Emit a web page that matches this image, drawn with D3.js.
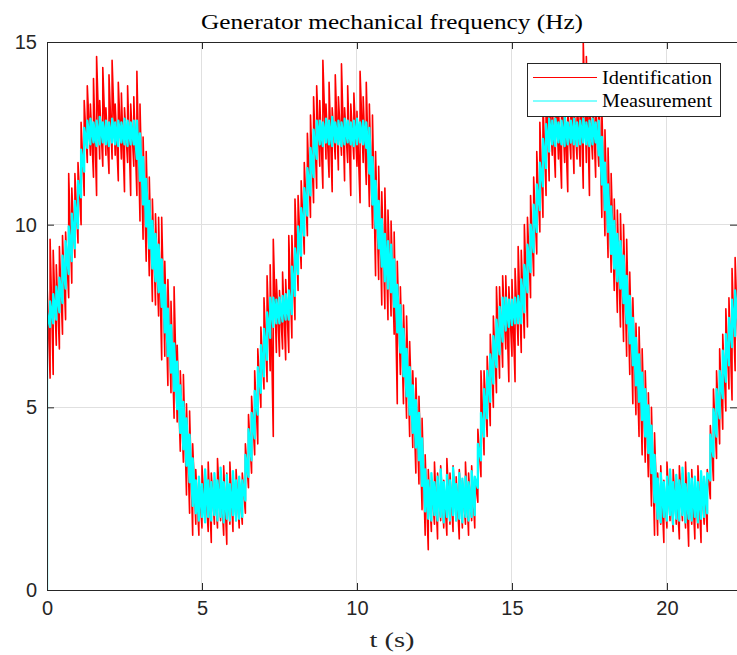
<!DOCTYPE html>
<html><head><meta charset="utf-8">
<script src="https://cdn.jsdelivr.net/npm/d3@7"></script>
<style>body{margin:0;background:#fff}svg{display:block}</style>
</head><body>
<svg id="chart" width="737" height="655"></svg>
<script>
// ---- data ----
const chartTitle = "Generator mechanical frequency (Hz)";
const xLabel = "t (s)";
const seriesNames = ["Identification", "Measurement"];
const xTicks = [0, 5, 10, 15, 20];
const yTicks = [0, 5, 10, 15];
const xMax = 22.26;
const sampleStep = 0.1; // s, sampling of the envelope readings

// Identification (red): lower / upper envelope of the noisy trace at each sample
const redLo = [
 5.6, 5.8, 5.9, 6.7, 6.6, 7.0, 7.4, 8.0, 8.4, 9.1,
 9.5, 10.0, 10.8, 11.7, 11.9, 11.3, 10.8, 11.8, 11.6, 11.9,
 11.4, 11.8, 11.9, 11.2, 11.8, 10.9, 11.7, 10.8, 11.6, 10.8,
 10.1, 9.6, 9.0, 8.6, 7.9, 7.8, 7.5, 6.3, 6.4, 5.6,
 5.4, 4.7, 4.6, 3.8, 3.5, 2.6, 2.1, 1.5, 1.8, 1.5,
 1.7, 1.9, 1.6, 1.3, 1.8, 1.7, 1.9, 1.5, 1.25, 1.8,
 1.6, 1.9, 1.7, 1.8, 2.1, 2.8, 3.2, 3.7, 4.0, 5.0,
 5.5, 5.7, 6.0, 4.2, 6.5, 6.4, 6.6, 6.3, 6.5, 6.9,
 7.4, 8.2, 8.8, 9.2, 9.7, 10.2, 10.6, 11.0, 11.6, 11.0,
 11.8, 11.3, 10.9, 11.8, 11.5, 11.9, 11.2, 11.7, 10.8, 11.8,
 11.6, 10.6, 11.7, 11.1, 10.5, 9.9, 8.6, 8.5, 7.8, 7.7,
 7.4, 7.5, 7.0, 5.1, 5.9, 5.1, 4.7, 4.2, 3.9, 3.2,
 2.9, 2.2, 1.5, 1.1, 1.6, 1.8, 1.4, 1.9, 1.7, 1.5,
 1.8, 1.6, 1.9, 1.4, 1.7, 1.8, 1.5, 1.9, 1.7, 2.4,
 3.1, 3.7, 4.2, 4.5, 5.0, 5.4, 5.8, 6.1, 6.6, 5.7,
 6.4, 5.7, 6.7, 6.5, 6.9, 7.2, 8.0, 8.6, 9.2, 9.8,
 10.2, 10.8, 11.2, 11.9, 11.3, 11.8, 11.0, 11.7, 10.9, 11.8,
 11.4, 11.8, 11.6, 11.0, 11.7, 10.8, 11.8, 11.3, 11.6, 10.2,
 9.7, 9.1, 8.7, 8.2, 7.6, 7.2, 6.8, 6.4, 5.9, 5.1,
 4.8, 4.2, 3.7, 3.5, 3.1, 2.3, 1.5, 1.5, 1.8, 1.3,
 1.7, 1.9, 1.6, 1.8, 1.4, 1.9, 1.7, 1.2, 1.8, 1.4,
 1.7, 1.3, 1.8, 1.6, 2.5, 3.0, 3.6, 4.0, 4.4, 4.9,
 5.5, 5.2, 6.0, 6.4
];
const redHi = [
 8.4, 9.6, 9.3, 8.9, 9.4, 9.7, 9.8, 11.4, 11.0, 11.4,
 11.7, 12.8, 13.4, 13.8, 13.3, 14.0, 14.6, 13.4, 14.3, 13.2,
 14.1, 14.5, 13.3, 13.9, 13.6, 13.2, 13.8, 13.3, 13.5, 14.2,
 13.3, 12.4, 12.0, 11.3, 10.7, 10.3, 10.2, 10.2, 9.0, 8.5,
 7.9, 8.3, 6.7, 6.0, 5.9, 5.1, 4.9, 4.0, 3.3, 3.0,
 3.4, 3.1, 3.5, 3.2, 3.0, 3.6, 3.1, 3.4, 3.2, 3.5,
 3.1, 3.3, 3.0, 3.2, 4.0, 4.8, 5.3, 6.0, 6.6, 7.2,
 8.0, 8.6, 8.9, 9.6, 8.5, 8.2, 8.7, 8.5, 9.7, 9.7,
 10.7, 10.8, 11.2, 11.7, 12.5, 13.0, 13.5, 13.8, 13.4, 14.5,
 13.3, 13.9, 13.2, 14.1, 13.5, 14.4, 13.2, 13.8, 13.3, 13.6,
 13.1, 14.2, 13.5, 13.9, 13.3, 13.0, 12.0, 11.6, 10.9, 11.0,
 10.4, 10.1, 9.8, 9.0, 8.3, 7.8, 7.5, 6.8, 6.0, 5.8,
 5.3, 4.7, 3.7, 3.3, 3.0, 3.5, 3.2, 3.4, 3.0, 3.6,
 3.2, 3.4, 3.1, 3.3, 3.0, 3.5, 3.2, 3.4, 3.1, 4.4,
 6.0, 6.0, 6.4, 7.0, 7.5, 8.3, 8.3, 8.6, 8.6, 8.3,
 8.5, 8.8, 9.4, 9.3, 10.0, 10.2, 10.8, 11.3, 12.0, 12.8,
 13.4, 14.0, 13.7, 13.3, 14.1, 13.2, 13.9, 13.4, 13.2, 14.0,
 13.3, 13.6, 14.2, 15.0, 14.6, 13.3, 13.8, 13.4, 13.9, 13.2,
 12.6, 12.1, 11.4, 10.7, 10.4, 10.3, 10.0, 9.6, 8.7, 8.0,
 7.3, 7.2, 6.6, 6.0, 5.4, 5.0, 4.3, 3.2, 3.4, 3.0,
 3.5, 3.1, 3.3, 3.0, 3.4, 3.2, 3.5, 3.1, 3.3, 3.0,
 3.4, 3.2, 3.1, 3.3, 4.5, 5.5, 6.0, 6.6, 7.0, 7.7,
 8.0, 8.8, 9.1, 9.3
];
// Measurement (cyan): lower / upper envelope at each sample
const cyanLo = [
 0, 7.2, 7.3, 7.4, 7.6, 7.85, 8.25, 8.65, 9.0, 9.35,
 9.9, 10.75, 11.45, 12.1, 12.2, 12.25, 12.15, 12.2, 12.25, 12.2,
 12.15, 12.25, 12.2, 12.15, 12.25, 12.2, 12.15, 12.2, 12.2, 11.8,
 11.2, 10.55, 9.95, 9.35, 8.8, 8.45, 8.15, 7.75, 7.05, 6.4,
 5.95, 5.45, 4.95, 4.3, 3.85, 3.4, 2.95, 2.3, 2.1, 1.9,
 2.0, 1.85, 2.0, 1.9, 2.05, 1.9, 2.0, 1.85, 1.95, 1.9,
 2.05, 1.9, 1.95, 2.0, 2.45, 3.1, 3.55, 4.15, 4.8, 5.4,
 5.85, 6.3, 6.9, 7.2, 7.3, 7.3, 7.35, 7.4, 7.4, 7.55,
 8.05, 8.65, 9.15, 9.7, 10.25, 10.8, 11.3, 11.8, 12.2, 12.15,
 12.25, 12.2, 12.15, 12.25, 12.2, 12.15, 12.2, 12.25, 12.2, 12.15,
 12.2, 12.25, 12.2, 12.1, 11.4, 10.55, 9.9, 9.35, 8.85, 8.45,
 8.25, 8.15, 7.75, 7.05, 6.5, 5.85, 5.3, 4.8, 4.3, 3.9,
 3.55, 2.85, 2.15, 1.95, 1.9, 2.05, 1.9, 2.0, 1.85, 2.0,
 1.9, 2.05, 1.9, 1.95, 1.85, 2.0, 1.9, 2.0, 2.05, 2.8,
 3.55, 4.2, 4.7, 5.15, 5.65, 6.1, 6.45, 6.8, 7.1, 7.2,
 7.25, 7.3, 7.3, 7.3, 7.6, 8.15, 8.7, 9.25, 9.8, 10.4,
 11.05, 11.55, 12.0, 12.2, 12.15, 12.25, 12.2, 12.15, 12.2, 12.25,
 12.2, 12.15, 12.2, 12.25, 12.2, 12.15, 12.2, 12.25, 11.9, 11.1,
 10.4, 9.8, 9.2, 8.8, 8.45, 8.25, 7.85, 7.3, 6.75, 6.15,
 5.6, 5.15, 4.65, 4.2, 3.75, 3.2, 2.4, 1.95, 1.85, 2.0,
 1.9, 2.05, 1.8, 1.95, 1.9, 2.05, 1.85, 1.95, 1.9, 2.0,
 1.85, 1.95, 2.0, 2.1, 3.0, 3.65, 4.2, 4.7, 5.25, 5.7,
 6.15, 6.65, 6.95, 7.2
];
const cyanHi = [
 7.6, 7.9, 8.1, 8.3, 8.55, 9.15, 9.55, 9.95, 10.3, 10.65,
 11.2, 12.05, 12.65, 12.85, 12.9, 12.8, 12.85, 12.95, 12.8, 12.85,
 12.8, 12.9, 12.8, 12.85, 12.8, 12.9, 12.85, 12.8, 12.85, 12.85,
 12.5, 11.85, 11.25, 10.65, 10.1, 9.75, 9.45, 9.05, 8.35, 7.7,
 7.25, 6.75, 6.25, 5.6, 5.15, 4.7, 4.25, 3.6, 3.0, 3.1,
 2.9, 3.3, 3.0, 2.95, 3.2, 3.0, 3.35, 2.95, 3.15, 2.9,
 3.25, 3.0, 3.1, 3.0, 3.7, 4.4, 4.85, 5.45, 6.1, 6.7,
 7.15, 7.6, 8.0, 8.0, 7.95, 8.0, 8.05, 8.1, 8.2, 8.85,
 9.35, 9.95, 10.45, 11.0, 11.55, 12.1, 12.6, 12.85, 12.85, 12.8,
 12.9, 12.85, 12.95, 12.8, 12.85, 12.8, 12.9, 12.85, 12.8, 12.85,
 12.9, 12.8, 12.85, 12.8, 12.65, 11.85, 11.2, 10.65, 10.15, 9.75,
 9.55, 9.45, 9.05, 8.35, 7.8, 7.15, 6.6, 6.1, 5.6, 5.2,
 4.85, 4.15, 3.3, 3.0, 3.2, 2.95, 3.1, 3.3, 2.95, 3.15,
 3.0, 3.35, 2.9, 3.2, 3.05, 3.1, 2.95, 3.25, 3.1, 4.0,
 4.85, 5.5, 6.0, 6.45, 6.95, 7.4, 7.75, 8.0, 8.0, 7.95,
 7.95, 8.0, 8.05, 8.5, 8.9, 9.45, 10.0, 10.55, 11.1, 11.7,
 12.35, 12.75, 12.9, 12.85, 12.9, 12.8, 12.85, 12.95, 12.8, 12.85,
 12.9, 12.8, 12.85, 12.9, 12.8, 12.85, 12.9, 12.8, 12.85, 12.4,
 11.7, 11.1, 10.5, 10.1, 9.75, 9.55, 9.15, 8.6, 8.05, 7.45,
 6.9, 6.45, 5.95, 5.5, 5.05, 4.5, 3.7, 3.05, 3.2, 2.95,
 3.1, 3.3, 2.95, 3.15, 3.0, 3.35, 2.9, 3.2, 3.05, 3.1,
 2.95, 3.25, 3.1, 3.2, 4.25, 4.95, 5.5, 6.0, 6.55, 7.0,
 7.45, 7.95, 8.2, 8.4
];
const seriesColors = ["#ff0000", "#00ffff"];

// ---- drawing ----
const svg = d3.select("#chart");
const L = 47, R = 737, T = 42, B = 590;
const x = d3.scaleLinear().domain([0, xMax]).range([L, R]);
const y = d3.scaleLinear().domain([0, 15]).range([B, T]);
const axisColor = "#262626";
const times = redLo.map((_, i) => +(i * sampleStep).toFixed(2));

svg.append("defs").append("clipPath").attr("id", "clip")
  .append("rect").attr("x", L).attr("y", T).attr("width", R - L).attr("height", B - T);

// grid
const grid = svg.append("g");
grid.selectAll(".gx").data(xTicks.filter(d => d > 0)).join("line")
  .attr("x1", d => x(d)).attr("x2", d => x(d)).attr("y1", T).attr("y2", B)
  .attr("stroke", "#e0e0e0").attr("stroke-width", 1).attr("shape-rendering", "crispEdges");
grid.selectAll(".gy").data(yTicks.filter(d => d > 0 && d < 15)).join("line")
  .attr("y1", d => y(d)).attr("y2", d => y(d)).attr("x1", L).attr("x2", R)
  .attr("stroke", "#e0e0e0").attr("stroke-width", 1).attr("shape-rendering", "crispEdges");

// data: zig-zag between the lower and upper envelope readings
function envelopePoints(lo, hi) {
  const pts = [];
  times.forEach((t, i) => { pts.push([t, lo[i]]); pts.push([t, hi[i]]); });
  return pts;
}
const line = d3.line().x(d => x(d[0])).y(d => y(d[1]));
const dataG = svg.append("g").attr("clip-path", "url(#clip)");
dataG.append("path").attr("d", line(envelopePoints(redLo, redHi)))
  .attr("fill", "none").attr("stroke", seriesColors[0]).attr("stroke-width", 1.6)
  .attr("stroke-linejoin", "round");
dataG.append("path").attr("d", line(envelopePoints(cyanLo, cyanHi)))
  .attr("fill", "none").attr("stroke", seriesColors[1]).attr("stroke-width", 2.3)
  .attr("stroke-linejoin", "round");

// axes
const fontSans = "'Liberation Sans', Arial, Helvetica, sans-serif";
const fontSerif = "'Liberation Serif', 'Times New Roman', serif";
const gx = svg.append("g").attr("transform", `translate(0,${B})`)
  .call(d3.axisBottom(x).tickValues(xTicks).tickSize(-7).tickSizeOuter(0).tickPadding(11));
const gy = svg.append("g").attr("transform", `translate(${L},0)`)
  .call(d3.axisLeft(y).tickValues(yTicks).tickSize(-7).tickSizeOuter(0).tickPadding(10));
const gt = svg.append("g").attr("transform", `translate(0,${T})`)
  .call(d3.axisTop(x).tickValues(xTicks).tickSize(-7).tickSizeOuter(0).tickFormat(""));
const gr = svg.append("g").attr("transform", `translate(${R},0)`)
  .call(d3.axisRight(y).tickValues(yTicks).tickSize(-7).tickSizeOuter(0).tickFormat(""));
[gx, gy, gt, gr].forEach(g => {
  g.select(".domain").remove();
  g.selectAll(".tick line").attr("stroke", axisColor);
  g.selectAll(".tick text").attr("fill", axisColor).style("font-family", fontSans).style("font-size", "20px");
});
svg.append("rect").attr("x", L).attr("y", T).attr("width", R - L).attr("height", B - T)
  .attr("fill", "none").attr("stroke", axisColor).attr("stroke-width", 1).attr("shape-rendering", "crispEdges");

// title and label
svg.append("text").attr("x", (L + R) / 2).attr("y", 29).attr("text-anchor", "middle")
  .style("font-family", fontSerif).style("font-size", "22px").attr("fill", "#000")
  .attr("textLength", 382).attr("lengthAdjust", "spacingAndGlyphs").text(chartTitle);
svg.append("text").attr("x", (L + R) / 2).attr("y", 647).attr("text-anchor", "middle")
  .style("font-family", fontSerif).style("font-size", "22px").attr("fill", axisColor)
  .attr("textLength", 45).attr("lengthAdjust", "spacingAndGlyphs").text(xLabel);

// legend
const lg = svg.append("g");
lg.append("rect").attr("x", 527).attr("y", 63).attr("width", 193).attr("height", 53)
  .attr("fill", "#fff").attr("stroke", axisColor).attr("stroke-width", 1).attr("shape-rendering", "crispEdges");
seriesNames.forEach((name, i) => {
  const yy = 77.5 + i * 23.5;
  lg.append("line").attr("x1", 533).attr("x2", 597).attr("y1", yy).attr("y2", yy)
    .attr("stroke", seriesColors[i]).attr("stroke-width", 1);
  lg.append("text").attr("x", 602).attr("y", yy + 6).style("font-family", fontSerif)
    .style("font-size", "19px").attr("fill", "#000")
    .attr("textLength", 110).attr("lengthAdjust", "spacingAndGlyphs").text(name);
});
</script>
</body></html>
